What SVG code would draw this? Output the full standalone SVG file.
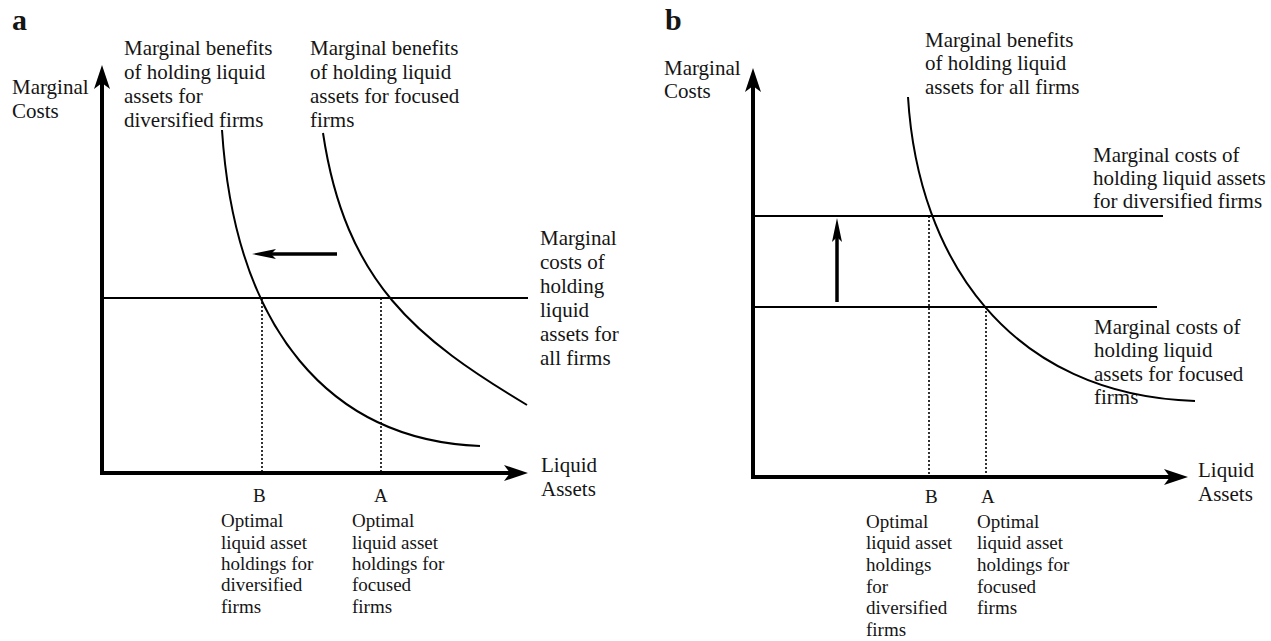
<svg xmlns="http://www.w3.org/2000/svg" width="1271" height="641" viewBox="0 0 1271 641">
<defs>
<style>
text{font-family:"Liberation Serif","Times New Roman",serif;fill:#151515}
.lab{font-size:21px}
.sm{font-size:19px}
.pl{font-size:30px;font-weight:bold}
.axis{stroke:#000;stroke-width:4;fill:none}
.hl{stroke:#000;stroke-width:2;fill:none}
.cv{stroke:#000;stroke-width:2;fill:none}
.dot{stroke:#000;stroke-width:1.6;stroke-dasharray:2 2;fill:none}
.shift{stroke:#000;stroke-width:3.5;fill:none}
</style>
<marker id="axHead" viewBox="0 0 24 16" refX="12" refY="8" markerWidth="24" markerHeight="16" markerUnits="userSpaceOnUse" orient="auto">
<path d="M0,0 L24,8 L0,16 L6,8 Z" fill="#000"/>
</marker>
<marker id="shHead" viewBox="0 0 24 10" refX="12" refY="5" markerWidth="24" markerHeight="10" markerUnits="userSpaceOnUse" orient="auto">
<path d="M0,0 L24,5 L0,10 L5,5 Z" fill="#000"/>
</marker>
</defs>
<rect width="1271" height="641" fill="#fff"/>

<g id="panel-a">
<text class="pl" x="12" y="30">a</text>
<g id="a-ylabel"><text class="lab" x="12" y="94">Marginal</text><text class="lab" x="12" y="118">Costs</text></g>
<g id="a-xlabel"><text class="lab" x="541" y="472">Liquid</text><text class="lab" x="541" y="496">Assets</text></g>
<g id="a-mb-div"><text class="lab" x="124" y="55">Marginal benefits</text><text class="lab" x="124" y="79">of holding liquid</text><text class="lab" x="124" y="103">assets for</text><text class="lab" x="124" y="127">diversified firms</text></g>
<g id="a-mb-foc"><text class="lab" x="310" y="55">Marginal benefits</text><text class="lab" x="310" y="79">of holding liquid</text><text class="lab" x="310" y="103">assets for focused</text><text class="lab" x="310" y="127">firms</text></g>
<g id="a-mc-all"><text class="lab" x="540" y="245">Marginal</text><text class="lab" x="540" y="269">costs of</text><text class="lab" x="540" y="293">holding</text><text class="lab" x="540" y="317">liquid</text><text class="lab" x="540" y="341">assets for</text><text class="lab" x="540" y="365">all firms</text></g>
<g id="a-B"><text class="sm" x="253" y="502">B</text><text class="sm" x="221" y="527">Optimal</text><text class="sm" x="221" y="549">liquid asset</text><text class="sm" x="221" y="570">holdings for</text><text class="sm" x="221" y="591">diversified</text><text class="sm" x="221" y="613">firms</text></g>
<g id="a-A"><text class="sm" x="374" y="502">A</text><text class="sm" x="352" y="527">Optimal</text><text class="sm" x="352" y="549">liquid asset</text><text class="sm" x="352" y="570">holdings for</text><text class="sm" x="352" y="591">focused</text><text class="sm" x="352" y="613">firms</text></g>
<g id="a-lines">
<path class="axis" d="M102,473 L102,77" marker-end="url(#axHead)"/>
<path class="axis" d="M100,473 L516,473" marker-end="url(#axHead)"/>
<path class="hl" d="M102,298 L528,298"/>
<path class="cv" d="M222,130 C235,330 330,440 480,446"/>
<path class="cv" d="M323,133 C345.5,283 417,339 527,405"/>
<path class="dot" d="M262,298 L262,471"/>
<path class="dot" d="M381,298 L381,471"/>
<path class="shift" d="M337,254 L264,254" marker-end="url(#shHead)"/>
</g>
</g>

<g id="panel-b">
<text class="pl" x="665" y="30">b</text>
<g id="b-ylabel"><text class="lab" x="664" y="75">Marginal</text><text class="lab" x="664" y="98">Costs</text></g>
<g id="b-xlabel"><text class="lab" x="1198" y="477">Liquid</text><text class="lab" x="1198" y="501">Assets</text></g>
<g id="b-mb-all"><text class="lab" x="925" y="47">Marginal benefits</text><text class="lab" x="925" y="70">of holding liquid</text><text class="lab" x="925" y="94">assets for all firms</text></g>
<g id="b-mc-div"><text class="lab" x="1093" y="162">Marginal costs of</text><text class="lab" x="1093" y="185">holding liquid assets</text><text class="lab" x="1093" y="208">for diversified firms</text></g>
<g id="b-mc-foc"><text class="lab" x="1094" y="334">Marginal costs of</text><text class="lab" x="1094" y="357">holding liquid</text><text class="lab" x="1094" y="381">assets for focused</text><text class="lab" x="1094" y="404">firms</text></g>
<g id="b-B"><text class="sm" x="925" y="503">B</text><text class="sm" x="866" y="528">Optimal</text><text class="sm" x="866" y="549">liquid asset</text><text class="sm" x="866" y="571">holdings</text><text class="sm" x="866" y="593">for</text><text class="sm" x="866" y="614">diversified</text><text class="sm" x="866" y="636">firms</text></g>
<g id="b-A"><text class="sm" x="981" y="503">A</text><text class="sm" x="977" y="528">Optimal</text><text class="sm" x="977" y="549">liquid asset</text><text class="sm" x="977" y="571">holdings for</text><text class="sm" x="977" y="593">focused</text><text class="sm" x="977" y="614">firms</text></g>
<g id="b-lines">
<path class="axis" d="M753,479 L753,80" marker-end="url(#axHead)"/>
<path class="axis" d="M751,477 L1176,477" marker-end="url(#axHead)"/>
<path class="hl" d="M753,216 L1163,216"/>
<path class="hl" d="M753,307 L1157,307"/>
<path class="cv" d="M908,97 C918,260 1010,395 1195,401"/>
<path class="dot" d="M929,216 L929,475"/>
<path class="dot" d="M986,307 L986,475"/>
<path class="shift" d="M837,302 L837,230" marker-end="url(#shHead)"/>
</g>
</g>
</svg>
